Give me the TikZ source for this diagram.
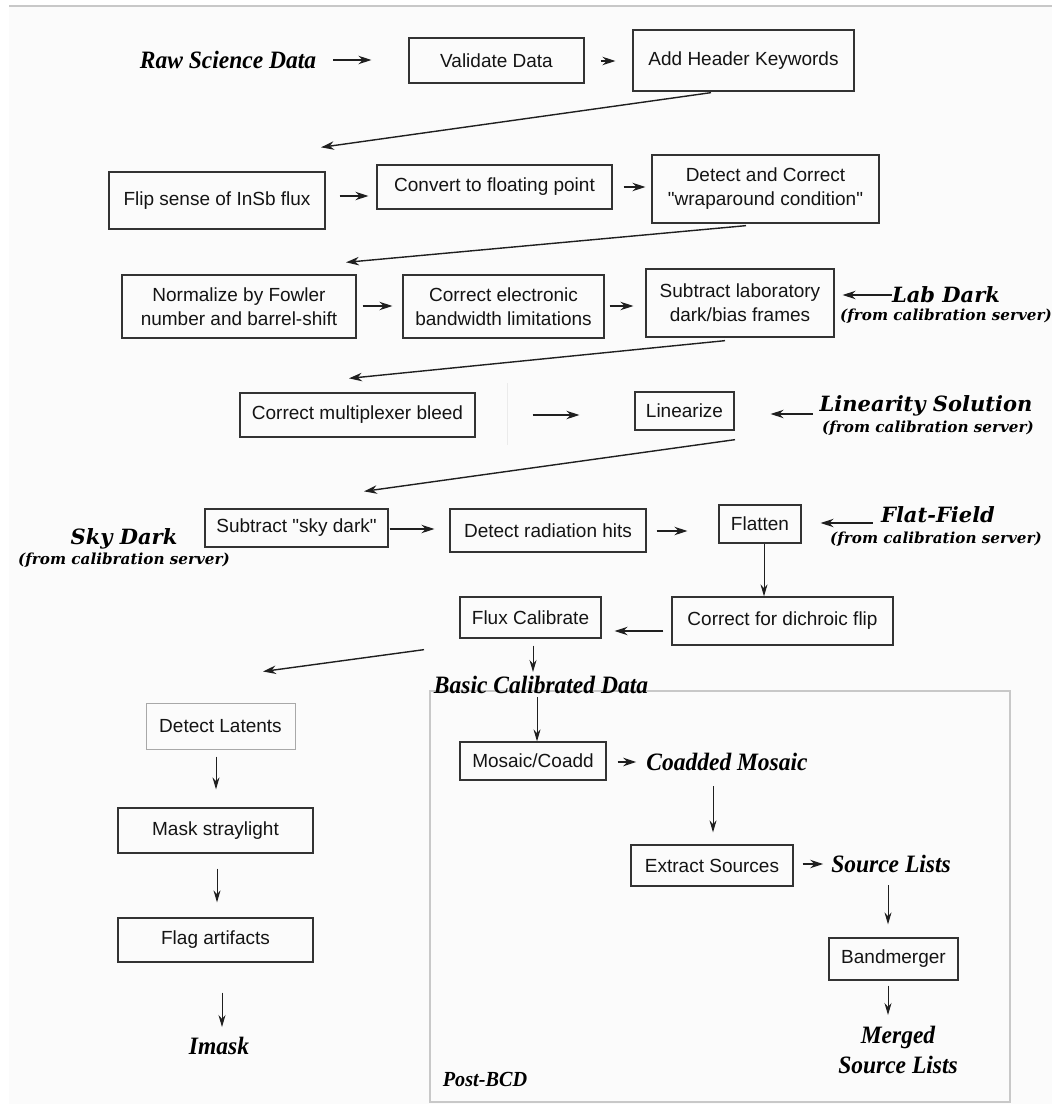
\documentclass[tikz,border=0pt]{standalone}
\usepackage{fontspec}
\setmainfont{Liberation Serif}[FakeStretch=0.94]
\setsansfont{Liberation Sans}[Ligatures=TeXOff]
\newfontfamily\dvs{DejaVu Serif}
\usetikzlibrary{arrows.meta,calc}
\definecolor{bgc}{HTML}{FBFBFB}
\definecolor{boxc}{HTML}{333333}
\definecolor{framec}{HTML}{C8C8C8}
\definecolor{latc}{HTML}{A8A8A8}
\begin{document}
\begin{tikzpicture}[x=1pt,y=-1pt,
 box/.style={draw=boxc, line width=1.3pt, inner sep=0pt, align=center, font=\sffamily\fontsize{19}{24}\selectfont, text=black!92},
 tlab/.style={inner sep=0pt, align=center, font=\rmfamily\bfseries\itshape\fontsize{25}{30}\selectfont},
 dlab/.style={inner sep=0pt, font=\dvs\bfseries\itshape\fontsize{21}{24}\selectfont},
 srv/.style={inner sep=0pt, font=\dvs\bfseries\itshape\fontsize{15.2}{17}\selectfont},
 arr/.style={-{Stealth[length=13pt,width=8.5pt]}, line width=1.4pt, draw=black!88},
 varr/.style={-{Stealth[length=12pt,width=7pt]}, line width=1pt, draw=black!88},
]
\useasboundingbox (0,0) rectangle (1052,1107);
\fill[white] (0,0) rectangle (1052,1107);
\fill[bgc] (9,7) rectangle (1052,1104);
\draw[framec, line width=1.5pt] (9,6) -- (1052,6);

% Post-BCD frame
\draw[framec, line width=1.2pt] (430,691) rectangle (1010,1102);
\draw[black!8, line width=1pt] (507,383) -- (507,445);

% boxes
\node[box, minimum width=175pt, minimum height=45pt] (val) at (496.5,60.5) {Validate Data};
\node[box, minimum width=221pt, minimum height=61pt] (hdr) at (743.5,60.5) {Add Header Keywords};
\node[box, minimum width=216pt, minimum height=57pt] (flip) at (217,200.5) {Flip sense of InSb flux};
\node[box, minimum width=235pt, minimum height=44pt] (conv) at (494.5,187) {Convert to floating point};
\node[box, minimum width=227pt, minimum height=68pt] (wrap) at (765.5,189) {Detect and Correct\\"wraparound condition"};
\node[box, minimum width=234pt, minimum height=63pt] (norm) at (239,306.5) {Normalize by Fowler\\number and barrel-shift};
\node[box, minimum width=201pt, minimum height=63pt] (elec) at (503.5,306.5) {Correct electronic\\bandwidth limitations};
\node[box, minimum width=188pt, minimum height=68pt] (sublab) at (740,303) {Subtract laboratory\\dark/bias frames};
\node[box, minimum width=235pt, minimum height=44pt] (mux) at (357.5,415) {Correct multiplexer bleed};
\node[box, minimum width=99pt, minimum height=38pt] (lin) at (684.5,411) {Linearize};
\node[box, minimum width=183pt, minimum height=38pt] (sky) at (296.5,528) {Subtract "sky dark"};
\node[box, minimum width=196pt, minimum height=43pt] (rad) at (548,530.5) {Detect radiation hits};
\node[box, minimum width=82pt, minimum height=38pt] (flat) at (760,524) {Flatten};
\node[box, minimum width=221pt, minimum height=48pt] (dich) at (782.5,621) {Correct for dichroic flip};
\node[box, minimum width=141pt, minimum height=41pt] (flux) at (530.5,617.5) {Flux Calibrate};
\node[box, minimum width=146pt, minimum height=38pt] (mos) at (533,761) {Mosaic/Coadd};
\node[box, minimum width=162pt, minimum height=41pt] (ext) at (712,865.5) {Extract Sources};
\node[box, minimum width=129pt, minimum height=42pt] (band) at (893.5,959) {Bandmerger};
\node[box, draw=latc, line width=1pt, minimum width=149pt, minimum height=46pt] (lat) at (220.5,726) {Detect Latents};
\node[box, minimum width=195pt, minimum height=45pt] (mask) at (215.5,830.5) {Mask straylight};
\node[box, minimum width=195pt, minimum height=44pt] (flag) at (215.5,940) {Flag artifacts};

% labels
\node[tlab] (raw) at (228,60) {Raw Science Data};
\node[dlab] (labdark) at (946,295) {Lab Dark};
\node[srv] (labsrv) at (946,316) {(from calibration server)};
\node[dlab] (linsol) at (926,406) {Linearity Solution};
\node[srv] (linsrv) at (928,428) {(from calibration server)};
\node[dlab] (flatf) at (938,515) {Flat-Field};
\node[srv] (flatsrv) at (936,539) {(from calibration server)};
\node[dlab] (skyd) at (124,539) {Sky Dark};
\node[srv] (skysrv) at (124,560) {(from calibration server)};
\node[tlab] (bcd) at (541,685) {Basic Calibrated Data};
\node[tlab] (coad) at (727,762) {Coadded Mosaic};
\node[tlab] (srcl) at (891,864) {Source Lists};
\node[tlab] (merged) at (898,1050) {Merged\\Source Lists};
\node[tlab, font=\rmfamily\bfseries\itshape\fontsize{21.5}{24}\selectfont] (postbcd) at (485,1079) {Post-BCD};
\node[tlab] (imask) at (219,1046) {Imask};

% connectors
\draw[arr] ($(raw.east)+(17,0)$) -- ($(val.west)+(-37,-0.5)$);
\draw[arr] ($(val.east)+(16,0.5)$) -- ($(hdr.west)+(-17,0.5)$);
\draw[arr] ($(hdr.south)+(-32.5,1)$) -- ($(flip.north)+(104,-24)$);
\draw[arr] ($(flip.east)+(14,-4.5)$) -- ($(conv.west)+(-8,9)$);
\draw[arr] ($(conv.east)+(11,0)$) -- ($(wrap.west)+(-6,-2)$);
\draw[arr] ($(wrap.south)+(-19.5,2)$) -- ($(norm.north)+(107,-12)$);
\draw[arr] ($(norm.east)+(6,-0.5)$) -- ($(elec.west)+(-10,-0.5)$);
\draw[arr] ($(elec.east)+(5,-0.5)$) -- ($(sublab.west)+(-12,3)$);
\draw[arr] ($(labdark.west)+(0,0)$) -- ($(sublab.east)+(8,-8)$);
\draw[arr] ($(sublab.south)+(-15,3)$) -- ($(mux.north)+(-8.5,-14)$);
\draw[arr] ($(mux.east)+(57,0)$) -- ($(lin.west)+(-55,4)$);
\draw[arr] ($(linsol.west)+(-7,8)$) -- ($(lin.east)+(36,3)$);
\draw[arr] ($(lin.south)+(50.5,9)$) -- ($(sky.north)+(67.5,-17)$);
\draw[arr] ($(sky.east)+(1,1)$) -- ($(rad.west)+(-15,-1.5)$);
\draw[arr] ($(rad.east)+(10,0.5)$) -- ($(flat.west)+(-31,7)$);
\draw[arr] ($(flatf.west)+(-8,8)$) -- ($(flat.east)+(19,-1)$);
\draw[varr] ($(flat.south)+(4,0)$) -- ($(dich.north)+(-18.5,0)$);
\draw[arr] ($(dich.west)+(-8,10)$) -- ($(flux.east)+(13,13.5)$);
\draw[arr] ($(flux.south)+(-106.5,11)$) -- ($(lat.north)+(42.5,-31)$);
\draw[varr] ($(flux.south)+(2.5,7)$) -- ($(bcd.center)+(-8,-13)$);
\draw[varr] ($(bcd.center)+(-4,12)$) -- ($(mos.north)+(4,0)$);
\draw[arr] ($(mos.east)+(11,1)$) -- ($(coad.west)+(-10,0)$);
\draw[varr] ($(coad.center)+(-14,24)$) -- ($(ext.north)+(1,-12)$);
\draw[arr] ($(ext.east)+(9,-1.5)$) -- ($(srcl.west)+(-8,0)$);
\draw[varr] ($(srcl.center)+(-3,21)$) -- ($(band.north)+(-5.5,-13)$);
\draw[varr] ($(band.south)+(-5.5,5)$) -- ($(merged.center)+(-10,-35)$);
\draw[varr] ($(lat.south)+(-4.5,7)$) -- ($(mask.north)+(0.5,-18)$);
\draw[varr] ($(mask.south)+(1.5,15)$) -- ($(flag.north)+(1.5,-15)$);
\draw[varr] ($(flag.south)+(6.5,30)$) -- ($(imask.center)+(3,-19)$);
\end{tikzpicture}
\end{document}
